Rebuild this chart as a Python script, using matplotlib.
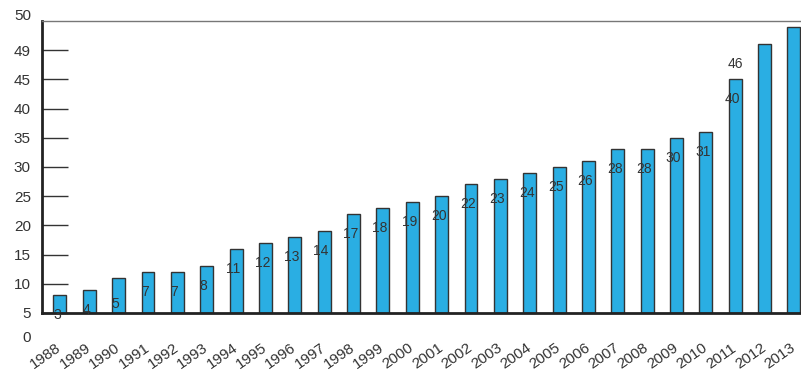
import matplotlib.pyplot as plt
import matplotlib.transforms as mtrans
import numpy as np

plt.rcParams['font.family'] = ['Liberation Sans', 'DejaVu Sans']

years = [str(y) for y in range(1988, 2014)]
# bar heights
values = [3, 4, 6, 7, 7, 8, 11, 12, 13, 14, 17, 18, 19, 20, 22, 23, 24, 25, 26,
          28, 28, 30, 31, 40, 46, 49]
# value labels as printed (the last two bars carry none, 46 sits over 2011)
bar_labels = ['3', '4', '5', '7', '7', '8', '11', '12', '13', '14', '17', '18', '19',
              '20', '22', '23', '24', '25', '26', '28', '28', '30', '31', '40', '', '']
extra_label = ('46', 23, 46)   # text, bar index, value

# the y labels in the source are shifted by one step
ytick_pos = [0, 5, 10, 15, 20, 25, 30, 35, 40, 45]
ytick_txt = ['5', '10', '15', '20', '25', '30', '35', '40', '45', '49']

fig = plt.figure(figsize=(8.01, 3.73), dpi=100)
ax = fig.add_axes([0.0524, 0.161, 0.9476, 0.7828])

x = np.arange(len(years))
ax.bar(x, values, width=0.44, color='#2AAEE3', edgecolor='#333333', linewidth=1.0, zorder=2)

txt_col = '#333333'
for i, lab in enumerate(bar_labels):
    if lab:
        ax.annotate(lab, (x[i], int(lab)), xytext=(-3, -20), textcoords='offset pixels',
                    ha='center', va='center', fontsize=10, color=txt_col, zorder=3)
ax.annotate(extra_label[0], (x[extra_label[1]], extra_label[2]), xytext=(0, -20),
            textcoords='offset pixels', ha='center', va='center', fontsize=10,
            color=txt_col, zorder=3)

ax.set_xlim(-0.61, 25.24)
ax.set_ylim(0, 50)

ax.set_yticks(ytick_pos, ytick_txt)
ax.tick_params(axis='y', direction='in', length=19, width=1, color='#333333',
               labelsize=11, labelcolor=txt_col, pad=8)
# the two end labels that fall outside the tick positions
ax.annotate('0', (0, -4.3), xycoords=ax.get_yaxis_transform(), xytext=(-15, 0),
            textcoords='offset pixels', ha='center', va='center', fontsize=11,
            color=txt_col, annotation_clip=False)
ax.annotate('50', (0, 50.9), xycoords=ax.get_yaxis_transform(), xytext=(-11, 0),
            textcoords='offset pixels', ha='right', va='center', fontsize=11,
            color=txt_col, annotation_clip=False)

ax.set_xticks(x)
ax.set_xticklabels(years, rotation=35, ha='right', va='top', rotation_mode='anchor',
                   fontsize=11, color=txt_col)
ax.tick_params(axis='x', length=0, pad=20)
shift = mtrans.ScaledTranslation(-4 / 100, 0, fig.dpi_scale_trans)
for t in ax.get_xticklabels():
    t.set_transform(t.get_transform() + shift)

ax.spines['left'].set_linewidth(2)
ax.spines['left'].set_color('#222222')
ax.spines['bottom'].set_linewidth(2)
ax.spines['bottom'].set_color('#222222')
ax.spines['top'].set_linewidth(1)
ax.spines['top'].set_color('#777777')
ax.spines['right'].set_visible(False)

fig.savefig('out.png', dpi=100)
